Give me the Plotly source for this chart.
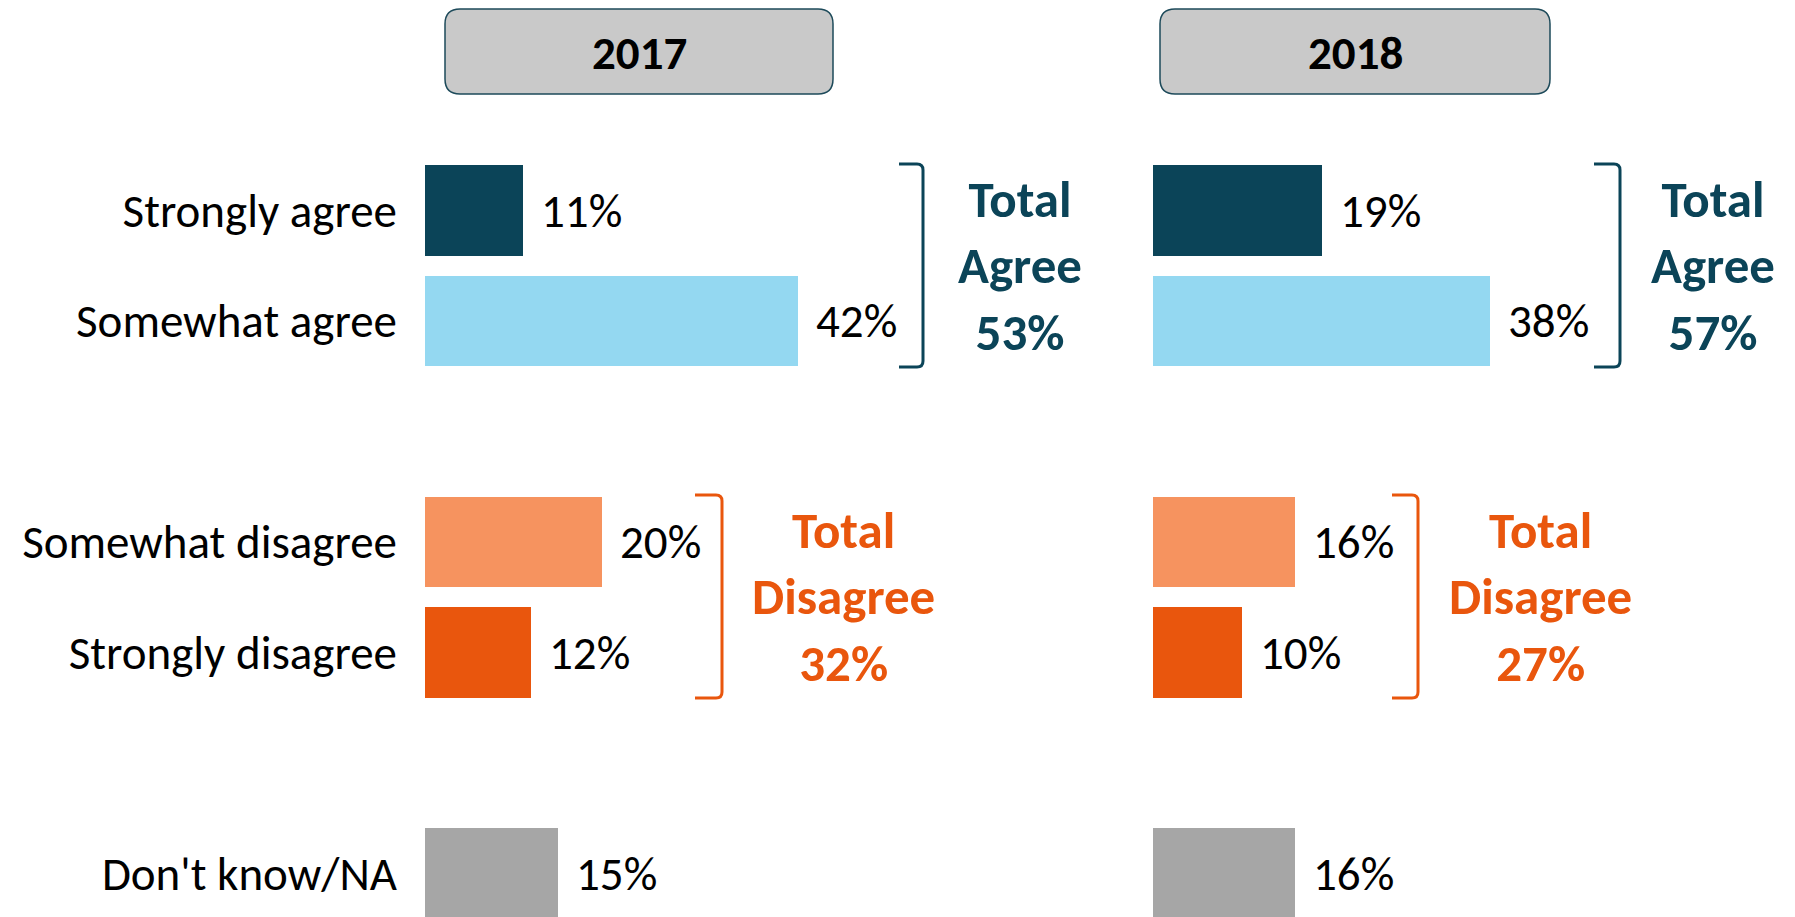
import plotly.graph_objects as go

# ---------------- data ----------------
categories = ["Strongly agree", "Somewhat agree", "Somewhat disagree", "Strongly disagree", "Don't know/NA"]
positions = [0, 1, 3, 4, 6]
values_2017 = [11, 42, 20, 12, 15]
values_2018 = [19, 38, 16, 10, 16]
years = ["2017", "2018"]
total_agree = [53, 57]
total_disagree = [32, 27]

# ---------------- style ----------------
bar_colors = ["#0b4458", "#94d8f1", "#f6935f", "#e9560d", "#a6a6a6"]
TEAL = "#0b4458"
ORANGE = "#e9560d"
FONT = "Calibri, Carlito, Lato, sans-serif"
W, H = 1795, 917
OFF = 8  # page body margin
PX_PER_PCT = 8.87
Y0, PITCH = 210.5, 110.5
X_LEFT = [425, 1153]
X_RIGHT = [1140, 1795]


def px(x):
    return (x - OFF) / W


def py(y):
    return 1 - (y - OFF) / H


fig = go.Figure()
axes = ["x", "x2"]
for i, vals in enumerate([values_2017, values_2018]):
    fig.add_trace(go.Bar(
        x=vals, y=positions, orientation="h",
        marker=dict(color=bar_colors, line=dict(width=0)),
        width=0.82, xaxis=axes[i], yaxis="y",
        showlegend=False, hoverinfo="skip",
    ))
    for v, p in zip(vals, positions):
        fig.add_annotation(x=v, y=p, xref=axes[i], yref="y", text=f"{v}%",
                           showarrow=False, xanchor="left", yanchor="middle", xshift=16,
                           font=dict(family=FONT, size=47, color="#000000"))

# totals
agree_x = [(1020 - X_LEFT[0]) / PX_PER_PCT, (1713 - X_LEFT[1]) / PX_PER_PCT]
disagree_x = [(843 - X_LEFT[0]) / PX_PER_PCT, (1540 - X_LEFT[1]) / PX_PER_PCT]
for i in range(2):
    fig.add_annotation(x=agree_x[i], y=0.5, xref=axes[i], yref="y",
                       text=f"<b>Total<br>Agree<br>{total_agree[i]}%</b>",
                       showarrow=False, xanchor="center", yanchor="middle",
                       font=dict(family=FONT, size=51, color=TEAL))
    fig.add_annotation(x=disagree_x[i], y=3.5, xref=axes[i], yref="y",
                       text=f"<b>Total<br>Disagree<br>{total_disagree[i]}%</b>",
                       showarrow=False, xanchor="center", yanchor="middle",
                       font=dict(family=FONT, size=51, color=ORANGE))


# header boxes (rounded rectangles)
def rounded_rect(x0, y0, x1, y1, r):
    return (f"M {px(x0 + r)},{py(y0)} L {px(x1 - r)},{py(y0)} Q {px(x1)},{py(y0)} {px(x1)},{py(y0 + r)} "
            f"L {px(x1)},{py(y1 - r)} Q {px(x1)},{py(y1)} {px(x1 - r)},{py(y1)} "
            f"L {px(x0 + r)},{py(y1)} Q {px(x0)},{py(y1)} {px(x0)},{py(y1 - r)} "
            f"L {px(x0)},{py(y0 + r)} Q {px(x0)},{py(y0)} {px(x0 + r)},{py(y0)} Z")


header_boxes = [(445, 9, 833, 94), (1160, 9, 1550, 94)]
for (x0, y0, x1, y1), yr in zip(header_boxes, years):
    fig.add_shape(type="path", path=rounded_rect(x0, y0, x1, y1, 15), xref="paper", yref="paper",
                  fillcolor="#c9c9c9", line=dict(color="#1d4a5a", width=1.5), layer="below")
    fig.add_annotation(x=px((x0 + x1) / 2), y=py((y0 + y1) / 2 + 1), xref="paper", yref="paper",
                       text=f"<b>{yr}</b>", showarrow=False, xanchor="center", yanchor="middle",
                       font=dict(family=FONT, size=47, color="#000000"))


# brackets
def bracket(xl, xv, yt, yb, r=6):
    return (f"M {px(xl)},{py(yt)} L {px(xv - r)},{py(yt)} Q {px(xv)},{py(yt)} {px(xv)},{py(yt + r)} "
            f"L {px(xv)},{py(yb - r)} Q {px(xv)},{py(yb)} {px(xv - r)},{py(yb)} L {px(xl)},{py(yb)}")


brackets = [
    (899, 923, 164, 367, TEAL),
    (1594, 1620, 164, 367, TEAL),
    (695, 722, 495, 698, ORANGE),
    (1392, 1418, 495, 698, ORANGE),
]
for xl, xv, yt, yb, col in brackets:
    fig.add_shape(type="path", path=bracket(xl, xv, yt, yb), xref="paper", yref="paper",
                  line=dict(color=col, width=3))

y_top_px, y_bot_px = OFF, OFF + H
yrange = [(y_bot_px - Y0) / PITCH, (y_top_px - Y0) / PITCH]
fig.update_layout(
    width=W, height=H,
    margin=dict(l=0, r=0, t=0, b=0),
    paper_bgcolor="white", plot_bgcolor="white",
    bargap=0,
    xaxis=dict(domain=[px(X_LEFT[0]), min(1.0, px(X_RIGHT[0]))],
               range=[0, (min(X_RIGHT[0], OFF + W) - X_LEFT[0]) / PX_PER_PCT],
               visible=False, fixedrange=True),
    xaxis2=dict(domain=[px(X_LEFT[1]), 1.0],
                range=[0, (OFF + W - X_LEFT[1]) / PX_PER_PCT],
                visible=False, fixedrange=True),
    yaxis=dict(domain=[0, 1], range=yrange, anchor="x",
               tickvals=positions, ticktext=categories,
               showgrid=False, zeroline=False, showline=False, ticks="",
               ticklabelstandoff=27,
               tickfont=dict(family=FONT, size=47, color="#000000"), fixedrange=True),
    font=dict(family=FONT),
)

fig.write_html("out.html")
